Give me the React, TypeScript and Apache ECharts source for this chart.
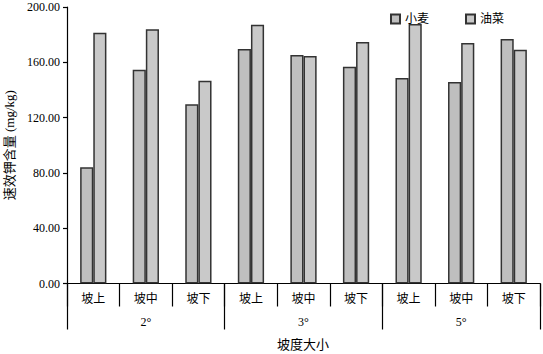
import React, { useEffect, useRef } from "react";
import * as echarts from "echarts";

const positions = ["坡上", "坡中", "坡下", "坡上", "坡中", "坡下", "坡上", "坡中", "坡下"];
const slopeGroups = ["2°", "3°", "5°"];
const wheat = [84, 154.7, 129.6, 169.6, 165.3, 156.8, 148.6, 145.7, 176.9];
const rapeseed = [181.4, 183.9, 146.7, 187.2, 164.6, 174.7, 187.7, 174.0, 169.1];
const seriesNames = ["小麦", "油菜"];
const yTicks = { min: 0, max: 200, interval: 40 };

const FONT = "'Liberation Serif', 'Times New Roman', 'Noto Sans CJK SC', serif";

export default function App() {
  const ref = useRef<HTMLDivElement>(null);
  useEffect(() => {
    if (!ref.current) return;
    const chart = echarts.init(ref.current, undefined, { renderer: "svg" });
    chart.setOption({
      animation: false,
      backgroundColor: "#ffffff",
      textStyle: { fontFamily: FONT },
      grid: {
        left: 67,
        right: 3,
        top: 7,
        bottom: 70.5,
        containLabel: false,
        outerBoundsMode: "none",
      },
      legend: {
        data: seriesNames,
        right: 34,
        top: 8,
        icon: "rect",
        itemWidth: 9,
        itemHeight: 9,
        itemGap: 36,
        textStyle: { fontFamily: FONT, fontSize: 12, color: "#000" },
      },
      xAxis: [
        {
          type: "category",
          data: positions,
          position: "bottom",
          axisLine: { show: true, lineStyle: { color: "#000", width: 1.2 } },
          axisTick: { show: true, interval: 0, length: 23, lineStyle: { color: "#000", width: 1.2 } },
          axisLabel: { interval: 0, margin: 9, fontSize: 12, color: "#000", fontFamily: FONT },
        },
        {
          type: "category",
          data: slopeGroups,
          position: "bottom",
          axisLine: { show: false },
          axisTick: { show: true, interval: 0, length: 46, lineStyle: { color: "#000", width: 1.2 } },
          axisLabel: { interval: 0, margin: 32, fontSize: 12, color: "#000", fontFamily: FONT },
        },
      ],
      yAxis: {
        type: "value",
        min: yTicks.min,
        max: yTicks.max,
        interval: yTicks.interval,
        name: "速效钾含量 (mg/kg)",
        nameLocation: "middle",
        nameGap: 51,
        nameTextStyle: { fontSize: 13, color: "#000", fontFamily: FONT },
        splitLine: { show: false },
        axisLine: { show: true, lineStyle: { color: "#000", width: 1.2 } },
        axisTick: { show: true, length: 4, lineStyle: { color: "#000", width: 1.2 } },
        axisLabel: {
          margin: 7,
          fontSize: 12,
          color: "#000",
          fontFamily: FONT,
          formatter: (v: number) => v.toFixed(2),
        },
      },
      graphic: [
        {
          type: "text",
          x: 303,
          y: 344,
          style: {
            text: "坡度大小",
            fontSize: 13,
            fontFamily: FONT,
            fill: "#000",
            textAlign: "center",
            textVerticalAlign: "middle",
          },
        },
      ],
      series: [
        {
          name: seriesNames[0],
          type: "bar",
          xAxisIndex: 0,
          data: wheat,
          barWidth: "25%",
          barGap: "0%",
          itemStyle: { color: "#bfbfbf", borderColor: "#333", borderWidth: 1.5 },
        },
        {
          name: seriesNames[1],
          type: "bar",
          xAxisIndex: 0,
          data: rapeseed,
          barWidth: "25%",
          barGap: "0%",
          itemStyle: { color: "#c9c9c9", borderColor: "#333", borderWidth: 1.5 },
        },
      ],
    });
    return () => chart.dispose();
  }, []);
  return (
    <div
      ref={ref}
      style={{ position: "fixed", left: 0, top: 0, width: 543, height: 354, background: "#fff" }}
    />
  );
}
